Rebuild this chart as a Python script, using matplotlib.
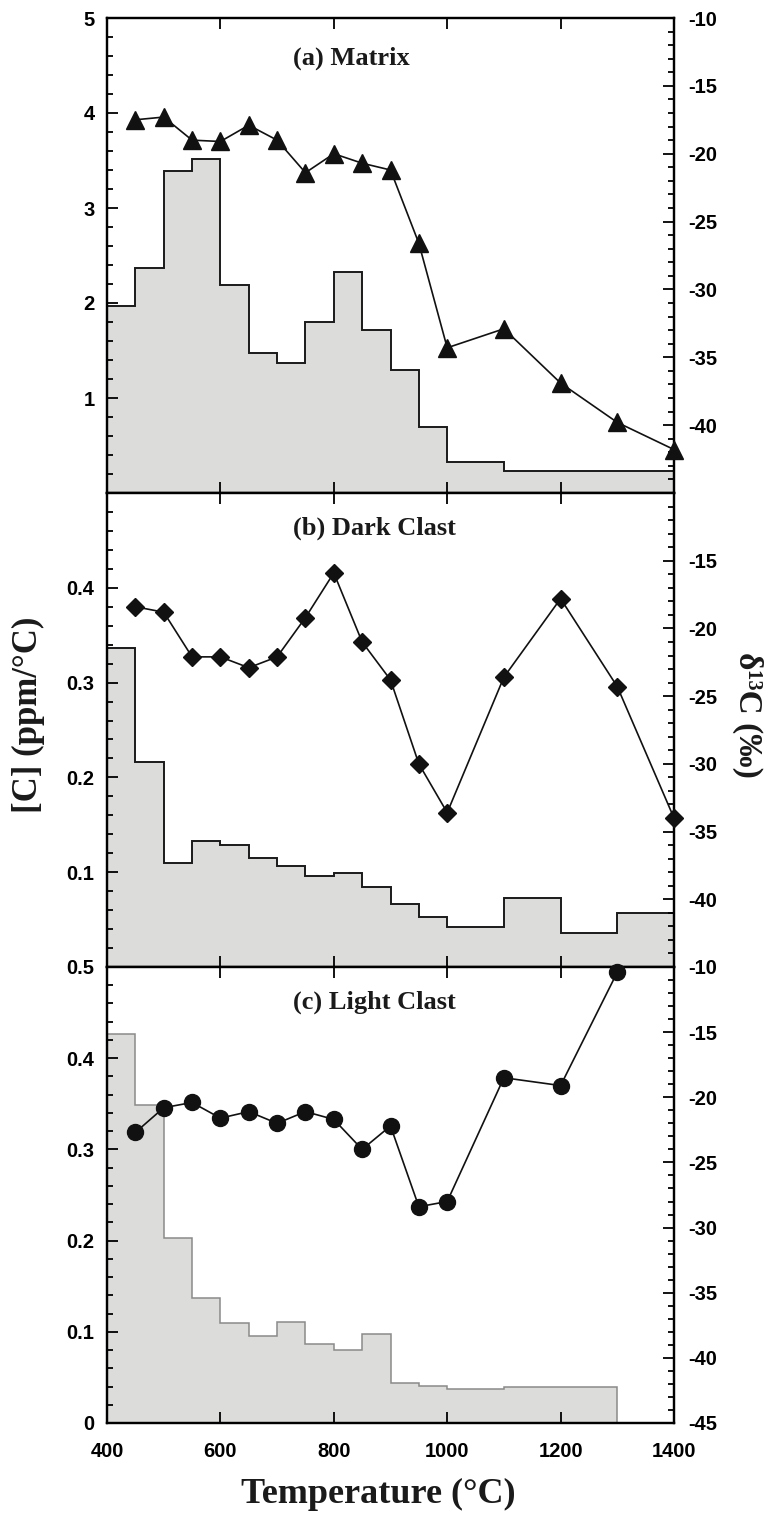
import matplotlib
matplotlib.use('Agg')
import matplotlib.pyplot as plt
from matplotlib.ticker import MultipleLocator, FixedLocator, FuncFormatter

# ---------------- data ----------------
edges_a = [400, 450, 500, 550, 600, 650, 700, 750, 800, 850, 900, 950, 1000, 1100, 1400]
conc_a = [1.97, 2.37, 3.39, 3.52, 2.19, 1.47, 1.37, 1.80, 2.33, 1.72, 1.29, 0.70, 0.33, 0.23]
temp_a = [450, 500, 550, 600, 650, 700, 750, 800, 850, 900, 950, 1000, 1100, 1200, 1300, 1400]
d13_a = [-17.5, -17.3, -19.0, -19.1, -17.9, -19.0, -21.4, -20.0, -20.7, -21.2,
         -26.6, -34.3, -32.9, -36.9, -39.8, -41.8]

edges_b = [400, 450, 500, 550, 600, 650, 700, 750, 800, 850, 900, 950, 1000, 1100, 1200, 1300, 1400]
conc_b = [0.336, 0.216, 0.110, 0.133, 0.129, 0.115, 0.107, 0.096, 0.099, 0.084, 0.066,
          0.053, 0.042, 0.073, 0.036, 0.057]
temp_b = [450, 500, 550, 600, 650, 700, 750, 800, 850, 900, 950, 1000, 1100, 1200, 1300, 1400]
d13_b = [-18.4, -18.8, -22.1, -22.1, -22.9, -22.1, -19.2, -15.9, -21.0, -23.8,
         -30.0, -33.6, -23.6, -17.8, -24.3, -34.0]

edges_c = [400, 450, 500, 550, 600, 650, 700, 750, 800, 850, 900, 950, 1000, 1100, 1200, 1300]
conc_c = [0.426, 0.349, 0.203, 0.137, 0.110, 0.095, 0.111, 0.087, 0.080, 0.098, 0.044,
          0.041, 0.037, 0.040, 0.039]
temp_c = [450, 500, 550, 600, 650, 700, 750, 800, 850, 900, 950, 1000, 1100, 1200, 1300]
d13_c = [-22.7, -20.8, -20.4, -21.6, -21.1, -22.0, -21.1, -21.7, -24.0, -22.2,
         -28.4, -28.0, -18.5, -19.1, -10.4]

panel_titles = ['(a) Matrix', '(b) Dark Clast', '(c) Light Clast']
xticks = [400, 600, 800, 1000, 1200, 1400]
left_ticks = [[1, 2, 3, 4, 5], [0.1, 0.2, 0.3, 0.4], [0, 0.1, 0.2, 0.3, 0.4, 0.5]]
left_lims = [(0, 5), (0, 0.5), (0, 0.5)]
left_minor = [0.2, 0.02, 0.02]
right_ticks = [[-40, -35, -30, -25, -20, -15, -10],
               [-40, -35, -30, -25, -20, -15],
               [-45, -40, -35, -30, -25, -20, -15, -10]]

# ---------------- style ----------------
W, H = 775, 1524
fig = plt.figure(figsize=(W / 100, H / 100), dpi=100)
serif = 'Liberation Serif'
sans = 'Liberation Sans'
fill_col = '#dcdddb'

L = 107 / W
R = 674 / W
bounds = [(18, 493), (493, 967), (967, 1423)]

edges_all = [edges_a, edges_b, edges_c]
conc_all = [conc_a, conc_b, conc_c]
temp_all = [temp_a, temp_b, temp_c]
d13_all = [d13_a, d13_b, d13_c]
markers = ['^', 'D', 'o']
msizes = [13, 9.5, 11.5]
hist_edge = ['#1a1a1a', '#1a1a1a', '#8a8a8a']
hist_lw = [1.4, 1.4, 1.1]
title_y = [0.916, 0.926, 0.923]

def fmt(v, pos):
    return f'{v:g}'

for i in range(3):
    top, bot = bounds[i]
    ax = fig.add_axes([L, 1 - bot / H, R - L, (bot - top) / H])
    ax.stairs(conc_all[i], edges_all[i], fill=True, color=fill_col, baseline=0, zorder=1)
    ax.stairs(conc_all[i], edges_all[i], fill=False, baseline=0, edgecolor=hist_edge[i],
              linewidth=hist_lw[i], zorder=2)
    ax.set_xlim(400, 1400)
    ax.set_ylim(*left_lims[i])
    ax.xaxis.set_major_locator(FixedLocator(xticks))
    ax.yaxis.set_major_locator(FixedLocator(left_ticks[i]))
    ax.yaxis.set_minor_locator(MultipleLocator(left_minor[i]))
    ax.yaxis.set_major_formatter(FuncFormatter(fmt))
    ax.tick_params(axis='both', which='both', direction='in', top=True, bottom=True,
                   left=True, right=False, width=1.3)
    ax.tick_params(axis='both', which='major', length=8)
    ax.tick_params(axis='y', which='minor', length=4.5)
    ax.tick_params(axis='y', pad=9, labelsize=14.5)
    ax.tick_params(axis='x', pad=14, labelsize=14.5)
    for lab in ax.get_yticklabels() + ax.get_xticklabels():
        lab.set_fontfamily(sans)
        lab.set_fontweight('bold')
    if i < 2:
        ax.tick_params(axis='x', labelbottom=False)
    for sp in ax.spines.values():
        sp.set_linewidth(1.6)

    ax2 = ax.twinx()
    ax2.plot(temp_all[i], d13_all[i], color='#111111', linewidth=1.2, marker=markers[i],
             markersize=msizes[i], markerfacecolor='#111111', markeredgecolor='#111111',
             clip_on=False, zorder=5)
    ax2.set_ylim(-45, -10)
    ax2.yaxis.set_major_locator(FixedLocator(right_ticks[i]))
    ax2.yaxis.set_minor_locator(MultipleLocator(1))
    ax2.yaxis.set_major_formatter(FuncFormatter(fmt))
    ax2.tick_params(axis='y', which='both', direction='in', right=True, left=False, width=1.3)
    ax2.tick_params(axis='y', which='major', length=8, pad=10, labelsize=14.5)
    ax2.tick_params(axis='y', which='minor', length=4.5)
    for lab in ax2.get_yticklabels():
        lab.set_fontfamily(sans)
        lab.set_fontweight('bold')
    for sp in ax2.spines.values():
        sp.set_linewidth(1.6)

    ax.text(0.328, title_y[i], panel_titles[i], transform=ax.transAxes, ha='left', va='center',
            fontsize=19, fontfamily=serif, fontweight='bold', color='#1a1a1a', zorder=6)

fig.text(28 / W, 1 - 715 / H, '[C] (ppm/°C)', rotation=90, ha='center', va='center',
         fontsize=25, fontfamily=serif, fontweight='bold', color='#1a1a1a')
fig.text(748 / W, 1 - 715 / H, 'δ¹³C (‰)', rotation=270, ha='center', va='center',
         fontsize=24, fontfamily=serif, fontweight='bold', color='#1a1a1a')
fig.text(378 / W, 1 - 1494 / H, 'Temperature (°C)', ha='center', va='center',
         fontsize=26, fontfamily=serif, fontweight='bold', color='#1a1a1a')

fig.savefig('out.png', dpi=100)
